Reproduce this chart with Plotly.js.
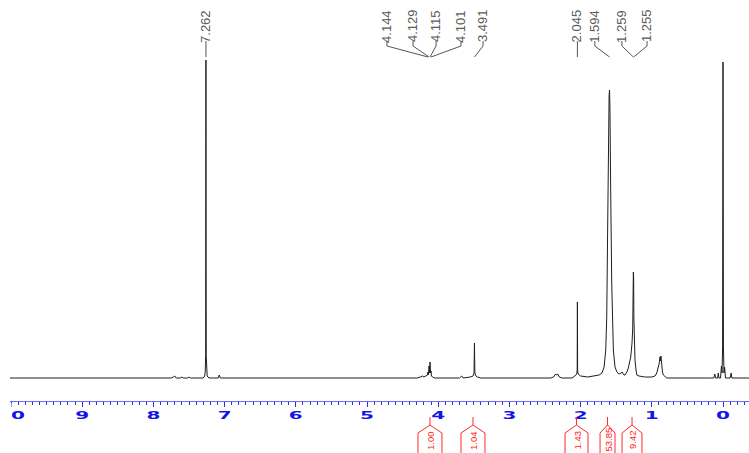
<!DOCTYPE html>
<html><head><meta charset="utf-8">
<script src="https://cdn.plot.ly/plotly-3.0.1.min.js"></script>
<style>html,body{margin:0;padding:0;background:#fff;overflow:hidden}#chart{width:749px;height:453px}</style>
</head><body><div id="chart"></div>
<script>
// ---- data (ppm, intensity in arbitrary units) ----
const ppm = [10.02, 9.0, 8.0, 7.75, 7.72, 7.70, 7.68, 7.62, 7.60, 7.58, 7.52, 7.50, 7.48,
  7.30, 7.28, 7.272, 7.266, 7.263, 7.262, 7.261, 7.258, 7.252, 7.245, 7.22,
  7.09, 7.075, 7.06, 5.0, 4.30, 4.25, 4.22, 4.20, 4.17, 4.15, 4.144, 4.137, 4.129, 4.122,
  4.115, 4.108, 4.101, 4.094, 4.08, 4.05, 3.70, 3.67, 3.65, 3.55, 3.51, 3.497, 3.491, 3.485,
  3.47, 3.45, 3.40, 2.42, 2.38, 2.35, 2.34, 2.32, 2.30, 2.26, 2.12, 2.08, 2.055, 2.048, 2.045,
  2.042, 2.035, 2.00, 1.90, 1.80, 1.74, 1.70, 1.67, 1.647, 1.633, 1.62, 1.61, 1.60, 1.594,
  1.588, 1.578, 1.563, 1.54, 1.517, 1.49, 1.46, 1.43, 1.42, 1.41, 1.39, 1.376, 1.35, 1.33,
  1.31, 1.296, 1.278, 1.268, 1.262, 1.259, 1.257, 1.255, 1.252, 1.246, 1.236, 1.22, 1.21,
  1.18, 1.10, 1.00, 0.955, 0.93, 0.908, 0.895, 0.885, 0.878, 0.872, 0.865, 0.86, 0.85, 0.838,
  0.81, 0.79, 0.20, 0.13, 0.115, 0.105, 0.075, 0.066, 0.058, 0.035, 0.022, 0.014, 0.006, 0.0,
  -0.006, -0.014, -0.022, -0.035, -0.10, -0.115, -0.125, -0.37];
const intensity = [0, 0, 0, 0, 1, 2, 0, 0, 1, 0, 0, 1, 0,
  0, 2, 6, 22, 160, 318, 160, 22, 6, 2, 0,
  0, 3, 0, 0, 0, 1, 2, 1, 2, 3, 6, 3, 12, 5,
  16, 5, 7, 2, 1, 0, 0, 2, 0, 1, 2, 5, 35, 5,
  2, 1, 0, 0, 1, 4, 3, 4, 1, 0, 0, 2, 4, 8, 76,
  8, 4, 2, 1, 2, 3, 5, 11, 28, 61, 150, 240, 282, 288,
  270, 190, 95, 28, 11, 6, 4, 5, 6, 5, 3, 3, 6, 10,
  15, 21, 35, 50, 90, 106, 90, 100, 60, 30, 18, 7, 3,
  2, 1, 1, 2, 5, 10, 15, 21, 17, 22, 14, 10, 6, 3,
  1, 0, 0, 0, 4, 0, 0, 5, 0, 0, 12, 5, 30, 316,
  30, 5, 11, 0, 0, 5, 0, 0];
const peakLabels = [7.262, 4.144, 4.129, 4.115, 4.101, 3.491, 2.045, 1.594, 1.259, 1.255];
const integralValues = [1.00, 1.04, 1.43, 53.85, 9.42];
const integralFrom = [4.284, 3.68, 2.219, 1.727, 1.418];
const integralTo = [3.947, 3.343, 1.896, 1.517, 1.138];
const tickValues = [10, 9, 8, 7, 6, 5, 4, 3, 2, 1, 0];

// ---- layout helpers ----
const labelAt = [7.262, 4.72, 4.354, 4.03, 3.68, 3.37, 2.045, 1.80, 1.42, 1.067];
const PLOT_H = 401;
const py = p => (PLOT_H - p) / PLOT_H; // page pixel y -> paper y

const annotations = [];
const shapes = [];

peakLabels.forEach((v, i) => {
  const lx = labelAt[i];
  annotations.push({
    xref: 'x', yref: 'paper', x: lx, y: py(26), text: v.toFixed(3),
    textangle: -90, showarrow: false, xanchor: 'center', yanchor: 'middle',
    font: {family: 'Liberation Sans, Arial, sans-serif', size: 13, color: '#5a5a5a'}
  });
  shapes.push({
    type: 'path', xref: 'x', yref: 'paper', layer: 'above',
    path: `M ${lx},${py(41)} L ${lx},${py(46)} L ${v},${py(57)}`,
    line: {color: '#555', width: 1}
  });
});

integralValues.forEach((v, i) => {
  const a = integralFrom[i], b = integralTo[i], c = (a + b) / 2;
  shapes.push({
    type: 'path', xref: 'x', yref: 'paper', layer: 'above',
    path: `M ${c},${py(417)} L ${c},${py(425)} L ${b},${py(433)} L ${b},${py(462)} M ${a},${py(462)} L ${a},${py(433)} L ${c},${py(425)}`,
    line: {color: '#ff2a2a', width: 1}
  });
  annotations.push({
    xref: 'x', yref: 'paper', x: c, y: py(440), text: v.toFixed(2),
    textangle: -90, showarrow: false, xanchor: 'center', yanchor: 'middle', borderpad: 0,
    font: {family: 'Liberation Sans, Arial, sans-serif', size: 9.5, color: '#ff1a1a'}
  });
});

// white cover for cropped left edge
shapes.push({type: 'rect', xref: 'paper', yref: 'paper', layer: 'above',
  x0: -0.05, x1: 1.5 / 739, y0: py(422), y1: py(403), fillcolor: '#ffffff', line: {width: 0}});

const trace = {
  x: ppm, y: intensity, type: 'scatter', mode: 'lines',
  line: {color: '#1e1e1e', width: 1}, hoverinfo: 'skip'
};

const axisBlue = '#2a2ae8';
const layout = {
  width: 749, height: 453,
  margin: {l: 10, r: 0, t: 0, b: 52, pad: 0},
  paper_bgcolor: '#fff', plot_bgcolor: '#fff', showlegend: false,
  xaxis: {
    range: [10.014, -0.365], tickmode: 'array', tickvals: tickValues,
    ticktext: tickValues.map(String),
    showgrid: false, zeroline: false, showline: true, linecolor: '#6a6af5', linewidth: 1,
    ticks: 'outside', ticklen: 5, tickcolor: axisBlue, tickwidth: 1,
    tickfont: {family: 'DejaVu Sans', size: 10, color: '#1414e6', weight: 700},
    minor: {dtick: 0.1, tick0: 0, ticks: 'outside', ticklen: 3, tickcolor: axisBlue, tickwidth: 1, showgrid: false}
  },
  yaxis: {range: [-23, 378], visible: false, showgrid: false, zeroline: false, fixedrange: true},
  annotations, shapes
};

Plotly.newPlot('chart', [trace], layout, {staticPlot: true, displayModeBar: false}).then(() => {
  document.querySelectorAll('#chart .xtick text').forEach(t => {
    const x = parseFloat(t.getAttribute('x') || '0');
    const tr = t.getAttribute('transform') || '';
    t.setAttribute('transform', `${tr} translate(${x},0) scale(2,1) translate(${-x},0)`);
  });
});
</script></body></html>
